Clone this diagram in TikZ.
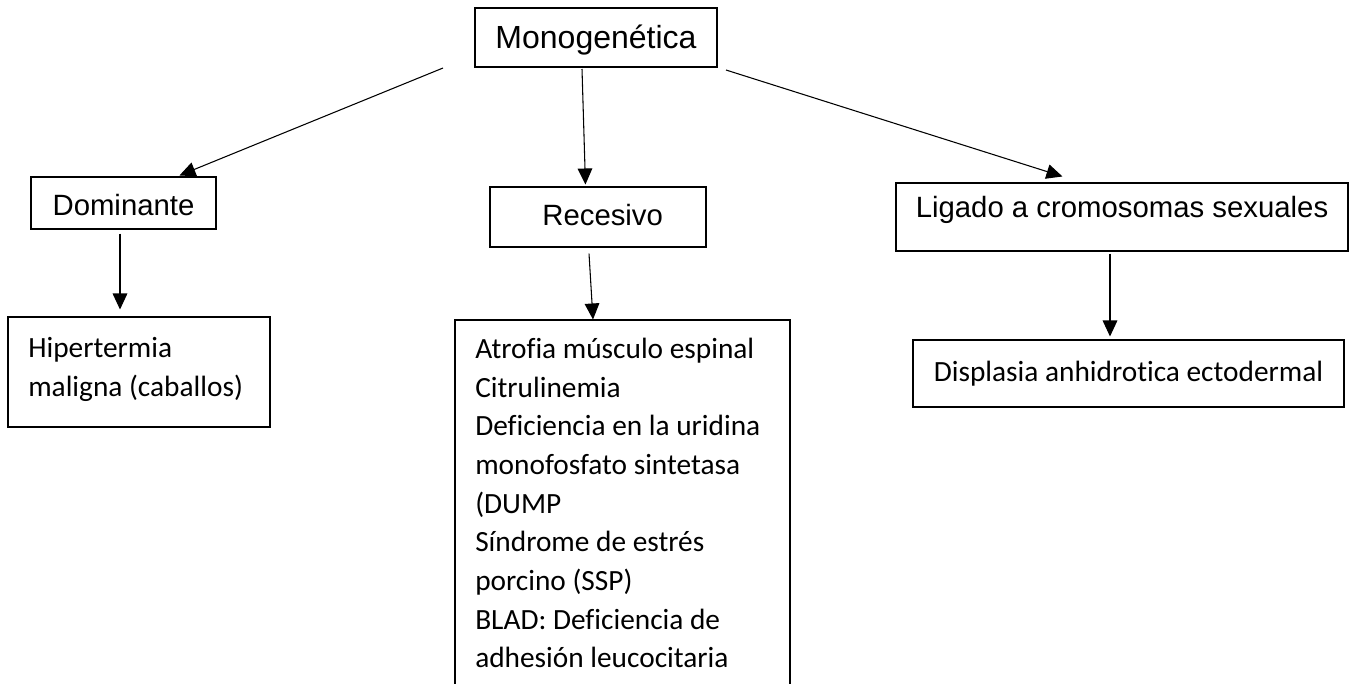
\documentclass[tikz,border=0pt]{standalone}
\usepackage{fontspec}
\setmainfont{Liberation Sans}
\newfontfamily\calib[Ligatures=NoCommon]{Carlito}
\usetikzlibrary{arrows.meta,calc}
\begin{document}
\begin{tikzpicture}[x=0.75pt,y=-0.75pt,
  box/.style={draw, line width=0.8pt, inner sep=0pt, rectangle},
  ar/.style={-{Triangle[length=12pt,width=11pt]}, line width=0.8pt},
  lbl/.style={font=\fontsize{22}{26}\selectfont},
  cal/.style={font=\calib\fontsize{22}{29}\selectfont, align=left, inner sep=0pt, anchor=north west},
  ]
\useasboundingbox (0,0) rectangle (1356,683);
\fill[white] (0,0) rectangle (1356,683);

\node[box, minimum width=181.5pt, minimum height=44.25pt, font=\fontsize{24}{28}\selectfont, text height=17.2pt, text depth=0pt] (mono) at (596,37.5) {Monogenética};
\node[box, lbl, minimum width=138.75pt, minimum height=39pt, text height=18.75pt, text depth=0pt] (dom) at (123.5,203) {Dominante};
\node[box, lbl, minimum width=162pt, minimum height=45pt, text width=162pt, align=center, text height=15.75pt, text depth=3pt] (rec) at (598,217) {\hspace*{7pt}Recesivo};
\node[box, lbl, minimum width=339pt, minimum height=51pt, text height=15.75pt, text depth=15pt] (lig) at (1122,217) {Ligado a cromosomas sexuales};
\node[box, minimum width=323.25pt, minimum height=50.25pt, font=\calib\fontsize{22}{26}\selectfont, text height=14.2pt, text depth=1.5pt] (dis) at (1128.5,373.5) {Displasia anhidrotica ectodermal};
\node[box, minimum width=196.5pt, minimum height=82.5pt] (hip) at (139,372) {};
\node[cal] (hipt) at (28,337) {Hipertermia\\maligna (caballos)};
\node[box, minimum width=251.25pt, minimum height=300pt] (big) at (622.5,520) {};
\node[cal] (bigt) at (475,338) {Atrofia músculo espinal\\Citrulinemia\\Deficiencia en la uridina\\monofosfato sintetasa\\(DUMP\\Síndrome de estrés\\porcino (SSP)\\BLAD: Deficiencia de\\adhesión leucocitaria};

\coordinate (s1) at (443,68);
\coordinate (s2) at (582,69);
\coordinate (s3) at (726,70);
\draw[ar] (s1) -- ($(dom.north west)+(149,-1)$);
\draw[ar] (s2) -- ($(rec.north west)+(96,-2)$);
\draw[ar] (s3) -- ($(lig.north west)+(167,-6)$);
\draw[ar] ($(dom.south)+(-3.5,4)$) -- ($(hip.north)+(-19,-7)$);
\draw[ar] ($(rec.south)+(-9,6)$) -- ($(big.north)+(-29.5,0)$);
\draw[ar] ($(lig.south)+(-12,2)$) -- ($(dis.north)+(-18.5,-3)$);
\end{tikzpicture}
\end{document}
